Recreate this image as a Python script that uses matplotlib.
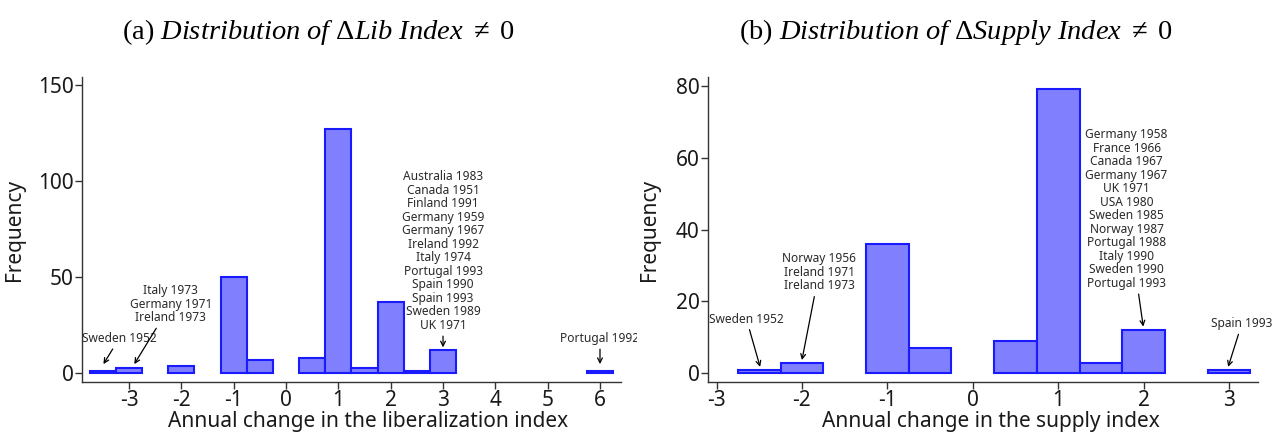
import matplotlib
matplotlib.use("Agg")
import matplotlib.pyplot as plt
from matplotlib.transforms import Bbox, TransformedBbox

plt.rcParams['font.family'] = ['Noto Sans', 'DejaVu Sans']
plt.rcParams['axes.unicode_minus'] = False
plt.rcParams['mathtext.fontset'] = 'custom'
plt.rcParams['mathtext.rm'] = 'Liberation Serif'
plt.rcParams['mathtext.it'] = 'Liberation Serif:italic'

# (a) change in liberalization index, bins of width 0.5
lib_centers = [-3.5, -3.0, -2.0, -1.0, -0.5, 0.5, 1.0, 1.5, 2.0, 2.5, 3.0, 6.0]
lib_counts = [1, 3, 4, 50, 7, 8, 127, 3, 37, 1, 12, 1]

# (b) change in supply index
sup_centers = [-2.5, -2.0, -1.0, -0.5, 0.5, 1.0, 1.5, 2.0, 3.0]
sup_counts = [1, 3, 36, 7, 9, 79, 3, 12, 1]

lib_notes = [
    ("Sweden 1952", (-3.49, 4.8), (-3.19, 14.7)),
    ("Italy 1973\nGermany 1971\nIreland 1973", (-2.9, 4.8), (-2.2, 25.5)),
    ("Australia 1983\nCanada 1951\nFinland 1991\nGermany 1959\nGermany 1967\n"
     "Ireland 1992\nItaly 1974\nPortugal 1993\nSpain 1990\nSpain 1993\n"
     "Sweden 1989\nUK 1971", (3.0, 13.5), (3.0, 21.5)),
    ("Portugal 1992", (6.0, 4.8), (6.0, 14.7)),
]
sup_notes = [
    ("Sweden 1952", (-2.49, 1.8), (-2.65, 13.3)),
    ("Norway 1956\nIreland 1971\nIreland 1973", (-2.0, 3.7), (-1.80, 22.5)),
    ("Germany 1958\nFrance 1966\nCanada 1967\nGermany 1967\nUK 1971\nUSA 1980\n"
     "Sweden 1985\nNorway 1987\nPortugal 1988\nItaly 1990\nSweden 1990\n"
     "Portugal 1993", (1.996, 13.0), (1.80, 23.2)),
    ("Spain 1993", (2.99, 1.8), (3.15, 12.0)),
]

fig = plt.figure(figsize=(12.75, 4.33), dpi=100)
ax1 = fig.add_axes([0.0643, 0.1178, 0.4227, 0.7042])
ax2 = fig.add_axes([0.5553, 0.1178, 0.4314, 0.7042])


def style(ax):
    for s in ['top', 'right']:
        ax.spines[s].set_visible(False)
    for s in ['left', 'bottom']:
        ax.spines[s].set_color('#333333')
        ax.spines[s].set_linewidth(1.0)
    ax.tick_params(direction='out', length=5, width=1, color='#333333',
                   labelsize=15, labelcolor='#1a1a1a', pad=1)


def annotate(ax, notes, clip=None):
    for txt, xy, xytext in notes:
        a = ax.annotate(txt, xy=xy, xytext=xytext, ha='center', va='bottom',
                        fontsize=8.6, color='#2a2a2a', linespacing=1.05,
                        arrowprops=dict(arrowstyle='->', color='black', lw=0.9,
                                        shrinkA=1, shrinkB=0))
        if clip is not None:
            a.set_clip_box(clip)
            a.set_clip_on(True)


ax1.bar(lib_centers, lib_counts, width=0.5, color='#8080ff', edgecolor='#1a1aff', linewidth=1.5)
ax1.set_xlim(-3.9, 6.4)
ax1.set_ylim(-4.5, 154)
ax1.set_xticks(range(-3, 7))
ax1.set_yticks([0, 50, 100, 150])
ax1.set_xlabel('Annual change in the liberalization index', fontsize=15, color='#1a1a1a')
ax1.set_ylabel('Frequency', fontsize=15, color='#1a1a1a')
ax1.xaxis.set_label_coords(0.53, -0.094)
ax1.yaxis.set_label_coords(-0.105, 0.5)
style(ax1)

ax2.bar(sup_centers, sup_counts, width=0.5, color='#8080ff', edgecolor='#1a1aff', linewidth=1.5)
ax2.set_xlim(-3.1, 3.34)
ax2.set_ylim(-2.4, 82.4)
ax2.set_xticks(range(-3, 4))
ax2.set_yticks([0, 20, 40, 60, 80])
ax2.set_xlabel('Annual change in the supply index', fontsize=15, color='#1a1a1a')
ax2.set_ylabel('Frequency', fontsize=15, color='#1a1a1a')
ax2.xaxis.set_label_coords(0.515, -0.094)
ax2.yaxis.set_label_coords(-0.087, 0.5)
style(ax2)

left_half = TransformedBbox(Bbox([[0, 0], [0.4995, 1]]), fig.transFigure)
annotate(ax1, lib_notes, clip=left_half)
annotate(ax2, sup_notes)

fig.text(0.25, 0.925, r"$\mathrm{(a)}\ \mathit{Distribution\ of\ \Delta Lib\ Index\ \neq\ }\mathrm{0}$",
         ha='center', va='center', fontsize=20.5)
fig.text(0.75, 0.925, r"$\mathrm{(b)}\ \mathit{Distribution\ of\ \Delta Supply\ Index\ \neq\ }\mathrm{0}$",
         ha='center', va='center', fontsize=20.5)

fig.savefig('out.png', dpi=100)
